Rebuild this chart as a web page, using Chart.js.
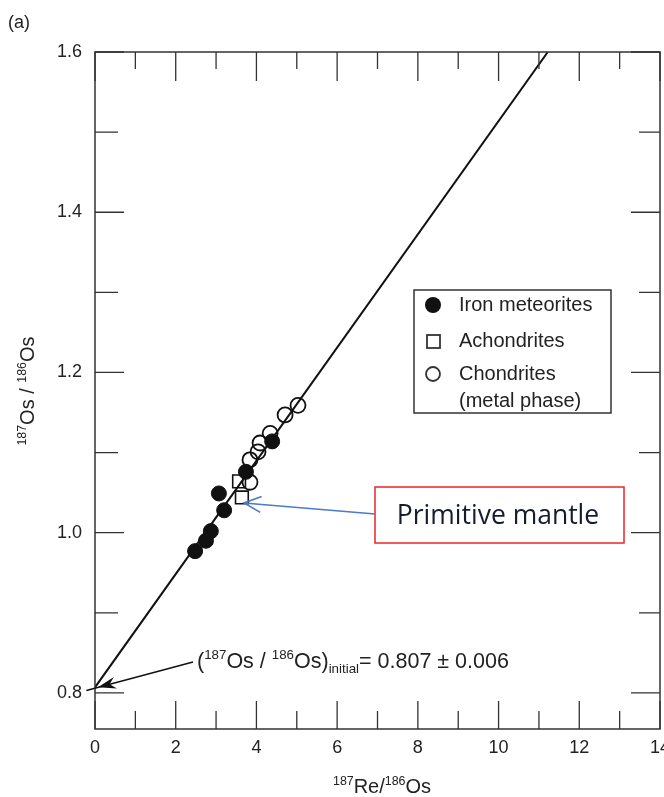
<!DOCTYPE html>
<html>
<head>
<meta charset="utf-8">
<script src="https://cdn.jsdelivr.net/npm/chart.js@4"></script>
<style>
  html, body { margin: 0; padding: 0; background: #fff; }
  #wrap { width: 664px; height: 797px; }
</style>
</head>
<body>
<div id="wrap"><canvas id="chart" width="664" height="797"></canvas></div>
<script>
// isochron line
const lineX = [0, 11.22];
const lineY = [0.807, 1.6];

// Iron meteorites
const ironX = [2.48, 2.75, 2.87, 3.07, 3.20, 3.74, 4.39];
const ironY = [0.977, 0.990, 1.002, 1.049, 1.028, 1.076, 1.114];

// Achondrites
const achondX = [3.57, 3.64];
const achondY = [1.064, 1.044];

// Chondrites (metal phase)
const chondX = [3.84, 3.84, 4.04, 4.09, 4.34, 4.71, 5.03];
const chondY = [1.063, 1.091, 1.101, 1.112, 1.124, 1.147, 1.159];

const xTicks = [0, 2, 4, 6, 8, 10, 12, 14];
const yTicks = [0.8, 1.0, 1.2, 1.4, 1.6];
const xMinor = [1, 3, 5, 7, 9, 11, 13];
const yMinor = [0.9, 1.1, 1.3, 1.5];

const FONT = "'Liberation Sans', Arial, sans-serif";
const INK = "#222";

const pts = (xs, ys) => xs.map((x, i) => ({ x: x, y: ys[i] }));

// draw text made of normal / sup / sub pieces
function richText(ctx, parts, x, y, size) {
  let cx = x;
  parts.forEach(p => {
    let fs = size, dy = 0;
    if (p.s === "sup") { fs = size * 0.62; dy = -size * 0.42; }
    if (p.s === "sub") { fs = size * 0.62; dy = size * 0.22; }
    ctx.font = fs + "px " + FONT;
    ctx.fillText(p.t, cx, y + dy);
    cx += ctx.measureText(p.t).width;
  });
  return cx - x;
}
function richWidth(ctx, parts, size) {
  let w = 0;
  parts.forEach(p => {
    const fs = p.s ? size * 0.62 : size;
    ctx.font = fs + "px " + FONT;
    w += ctx.measureText(p.t).width;
  });
  return w;
}

const decorations = {
  id: "decorations",
  afterDatasetsDraw(chart) {
    const ctx = chart.ctx;
    const a = chart.chartArea;
    const xs = chart.scales.x, ys = chart.scales.y;
    ctx.save();

    // frame
    ctx.strokeStyle = "#333";
    ctx.lineWidth = 1.5;
    ctx.strokeRect(a.left, a.top, a.right - a.left, a.bottom - a.top);

    // inward ticks on all four sides
    ctx.lineWidth = 1.3;
    ctx.beginPath();
    xTicks.forEach(v => {
      const px = xs.getPixelForValue(v);
      ctx.moveTo(px, a.bottom); ctx.lineTo(px, a.bottom - 28);
      ctx.moveTo(px, a.top); ctx.lineTo(px, a.top + 29);
    });
    xMinor.forEach(v => {
      const px = xs.getPixelForValue(v);
      ctx.moveTo(px, a.bottom); ctx.lineTo(px, a.bottom - 18);
      ctx.moveTo(px, a.top); ctx.lineTo(px, a.top + 17);
    });
    yTicks.forEach(v => {
      const py = ys.getPixelForValue(v);
      ctx.moveTo(a.left, py); ctx.lineTo(a.left + 29, py);
      ctx.moveTo(a.right, py); ctx.lineTo(a.right - 29, py);
    });
    yMinor.forEach(v => {
      const py = ys.getPixelForValue(v);
      ctx.moveTo(a.left, py); ctx.lineTo(a.left + 23, py);
      ctx.moveTo(a.right, py); ctx.lineTo(a.right - 21, py);
    });
    ctx.stroke();

    ctx.fillStyle = INK;
    ctx.textBaseline = "alphabetic";

    // panel label
    ctx.textAlign = "left";
    ctx.font = "18px " + FONT;
    ctx.fillText("(a)", 8, 28);

    // x title
    const xt = [{ t: "187", s: "sup" }, { t: "Re/" }, { t: "186", s: "sup" }, { t: "Os" }];
    const xw = richWidth(ctx, xt, 20);
    richText(ctx, xt, 382 - xw / 2, 793, 20);

    // y title
    const yt = [{ t: "187", s: "sup" }, { t: "Os / " }, { t: "186", s: "sup" }, { t: "Os" }];
    const yw = richWidth(ctx, yt, 20);
    ctx.save();
    ctx.translate(34, 391);
    ctx.rotate(-Math.PI / 2);
    richText(ctx, yt, -yw / 2, 0, 20);
    ctx.restore();

    // initial ratio annotation
    const ann = [
      { t: "(" }, { t: "187", s: "sup" }, { t: "Os / " }, { t: "186", s: "sup" },
      { t: "Os)" }, { t: "initial", s: "sub" }, { t: "= 0.807 ± 0.006" }
    ];
    richText(ctx, ann, 197, 668, 21.5);

    // black arrow to intercept
    const tipX = xs.getPixelForValue(0) + 3, tipY = ys.getPixelForValue(0.807);
    const fromX = 193, fromY = 662;
    const ang = Math.atan2(tipY - fromY, tipX - fromX);
    ctx.strokeStyle = "#111";
    ctx.lineWidth = 1.5;
    ctx.beginPath();
    ctx.moveTo(fromX, fromY);
    ctx.lineTo(tipX + 12 * Math.cos(ang), tipY + 12 * Math.sin(ang));
    ctx.stroke();
    ctx.fillStyle = "#111";
    ctx.beginPath();
    ctx.moveTo(tipX, tipY);
    ctx.lineTo(tipX - 18 * Math.cos(ang) + 6 * Math.sin(ang), tipY - 18 * Math.sin(ang) - 6 * Math.cos(ang));
    ctx.lineTo(tipX - 12 * Math.cos(ang), tipY - 12 * Math.sin(ang));
    ctx.lineTo(tipX - 18 * Math.cos(ang) - 6 * Math.sin(ang), tipY - 18 * Math.sin(ang) + 6 * Math.cos(ang));
    ctx.closePath();
    ctx.fill();

    // legend box
    ctx.fillStyle = "#fff";
    ctx.fillRect(414, 290, 197, 123);
    ctx.strokeStyle = "#333";
    ctx.lineWidth = 1.5;
    ctx.strokeRect(414, 290, 197, 123);
    ctx.fillStyle = "#111";
    ctx.beginPath(); ctx.arc(433, 305, 8, 0, Math.PI * 2); ctx.fill();
    ctx.lineWidth = 1.8;
    ctx.strokeRect(427, 335, 13, 13);
    ctx.beginPath(); ctx.arc(433, 374, 7, 0, Math.PI * 2); ctx.stroke();
    ctx.fillStyle = INK;
    ctx.font = "20px " + FONT;
    ctx.textBaseline = "middle";
    ctx.fillText("Iron meteorites", 459, 305);
    ctx.fillText("Achondrites", 459, 341);
    ctx.fillText("Chondrites", 459, 374);
    ctx.fillText("(metal phase)", 459, 401);

    // primitive mantle callout
    ctx.strokeStyle = "#e8262a";
    ctx.lineWidth = 1.5;
    ctx.fillStyle = "#fff";
    ctx.fillRect(375, 487, 249, 56);
    ctx.strokeRect(375, 487, 249, 56);
    ctx.fillStyle = "#141c2e";
    ctx.font = "26.5px 'Open Sans', sans-serif";
    ctx.textAlign = "center";
    ctx.fillText("Primitive mantle", 498, 516);

    // blue arrow to the achondrites
    const bx0 = 375, by0 = 514, bx1 = 244, by1 = 503;
    const ba = Math.atan2(by1 - by0, bx1 - bx0);
    ctx.strokeStyle = "#4a7bc8";
    ctx.lineWidth = 1.6;
    ctx.beginPath();
    ctx.moveTo(bx0, by0); ctx.lineTo(bx1, by1);
    ctx.moveTo(bx1 - 17 * Math.cos(ba) + 8 * Math.sin(ba), by1 - 17 * Math.sin(ba) - 8 * Math.cos(ba));
    ctx.lineTo(bx1, by1);
    ctx.lineTo(bx1 - 17 * Math.cos(ba) - 8 * Math.sin(ba), by1 - 17 * Math.sin(ba) + 8 * Math.cos(ba));
    ctx.stroke();

    ctx.restore();
  }
};

new Chart(document.getElementById("chart"), {
  type: "scatter",
  data: {
    datasets: [
      {
        label: "isochron",
        data: pts(lineX, lineY),
        showLine: true,
        borderColor: "#111",
        borderWidth: 2,
        pointRadius: 0,
        fill: false
      },
      {
        label: "Chondrites (metal phase)",
        data: pts(chondX, chondY),
        pointStyle: "circle",
        pointRadius: 7.5,
        backgroundColor: "rgba(255,255,255,0)",
        borderColor: "#111",
        borderWidth: 1.8
      },
      {
        label: "Achondrites",
        data: pts(achondX, achondY),
        pointStyle: "rect",
        pointRadius: 9,
        backgroundColor: "rgba(255,255,255,0)",
        borderColor: "#111",
        borderWidth: 1.6
      },
      {
        label: "Iron meteorites",
        data: pts(ironX, ironY),
        pointStyle: "circle",
        pointRadius: 7.5,
        backgroundColor: "#111",
        borderColor: "#111",
        borderWidth: 1
      }
    ]
  },
  options: {
    responsive: false,
    animation: false,
    devicePixelRatio: 1,
    layout: { autoPadding: false, padding: { top: 52, right: 4, left: 0, bottom: 0 } },
    plugins: { legend: { display: false }, tooltip: { enabled: false } },
    scales: {
      x: {
        type: "linear",
        min: 0,
        max: 14,
        grid: { display: false, drawTicks: false },
        border: { display: false },
        afterBuildTicks: s => { s.ticks = xTicks.map(v => ({ value: v })); },
        afterFit: s => { s.height = 68; s.paddingLeft = 0; s.paddingRight = 0; },
        ticks: {
          padding: 8,
          color: INK,
          font: { family: FONT, size: 18 },
          maxRotation: 0,
          autoSkip: false
        }
      },
      y: {
        type: "linear",
        min: 0.755,
        max: 1.6,
        grid: { display: false, drawTicks: false },
        border: { display: false },
        afterBuildTicks: s => { s.ticks = yTicks.map(v => ({ value: v })); },
        afterFit: s => { s.width = 95; s.paddingTop = 0; s.paddingBottom = 0; },
        ticks: {
          padding: 13,
          color: INK,
          font: { family: FONT, size: 18 },
          autoSkip: false,
          callback: v => v.toFixed(1)
        }
      }
    }
  },
  plugins: [decorations]
});
</script>
</body>
</html>
